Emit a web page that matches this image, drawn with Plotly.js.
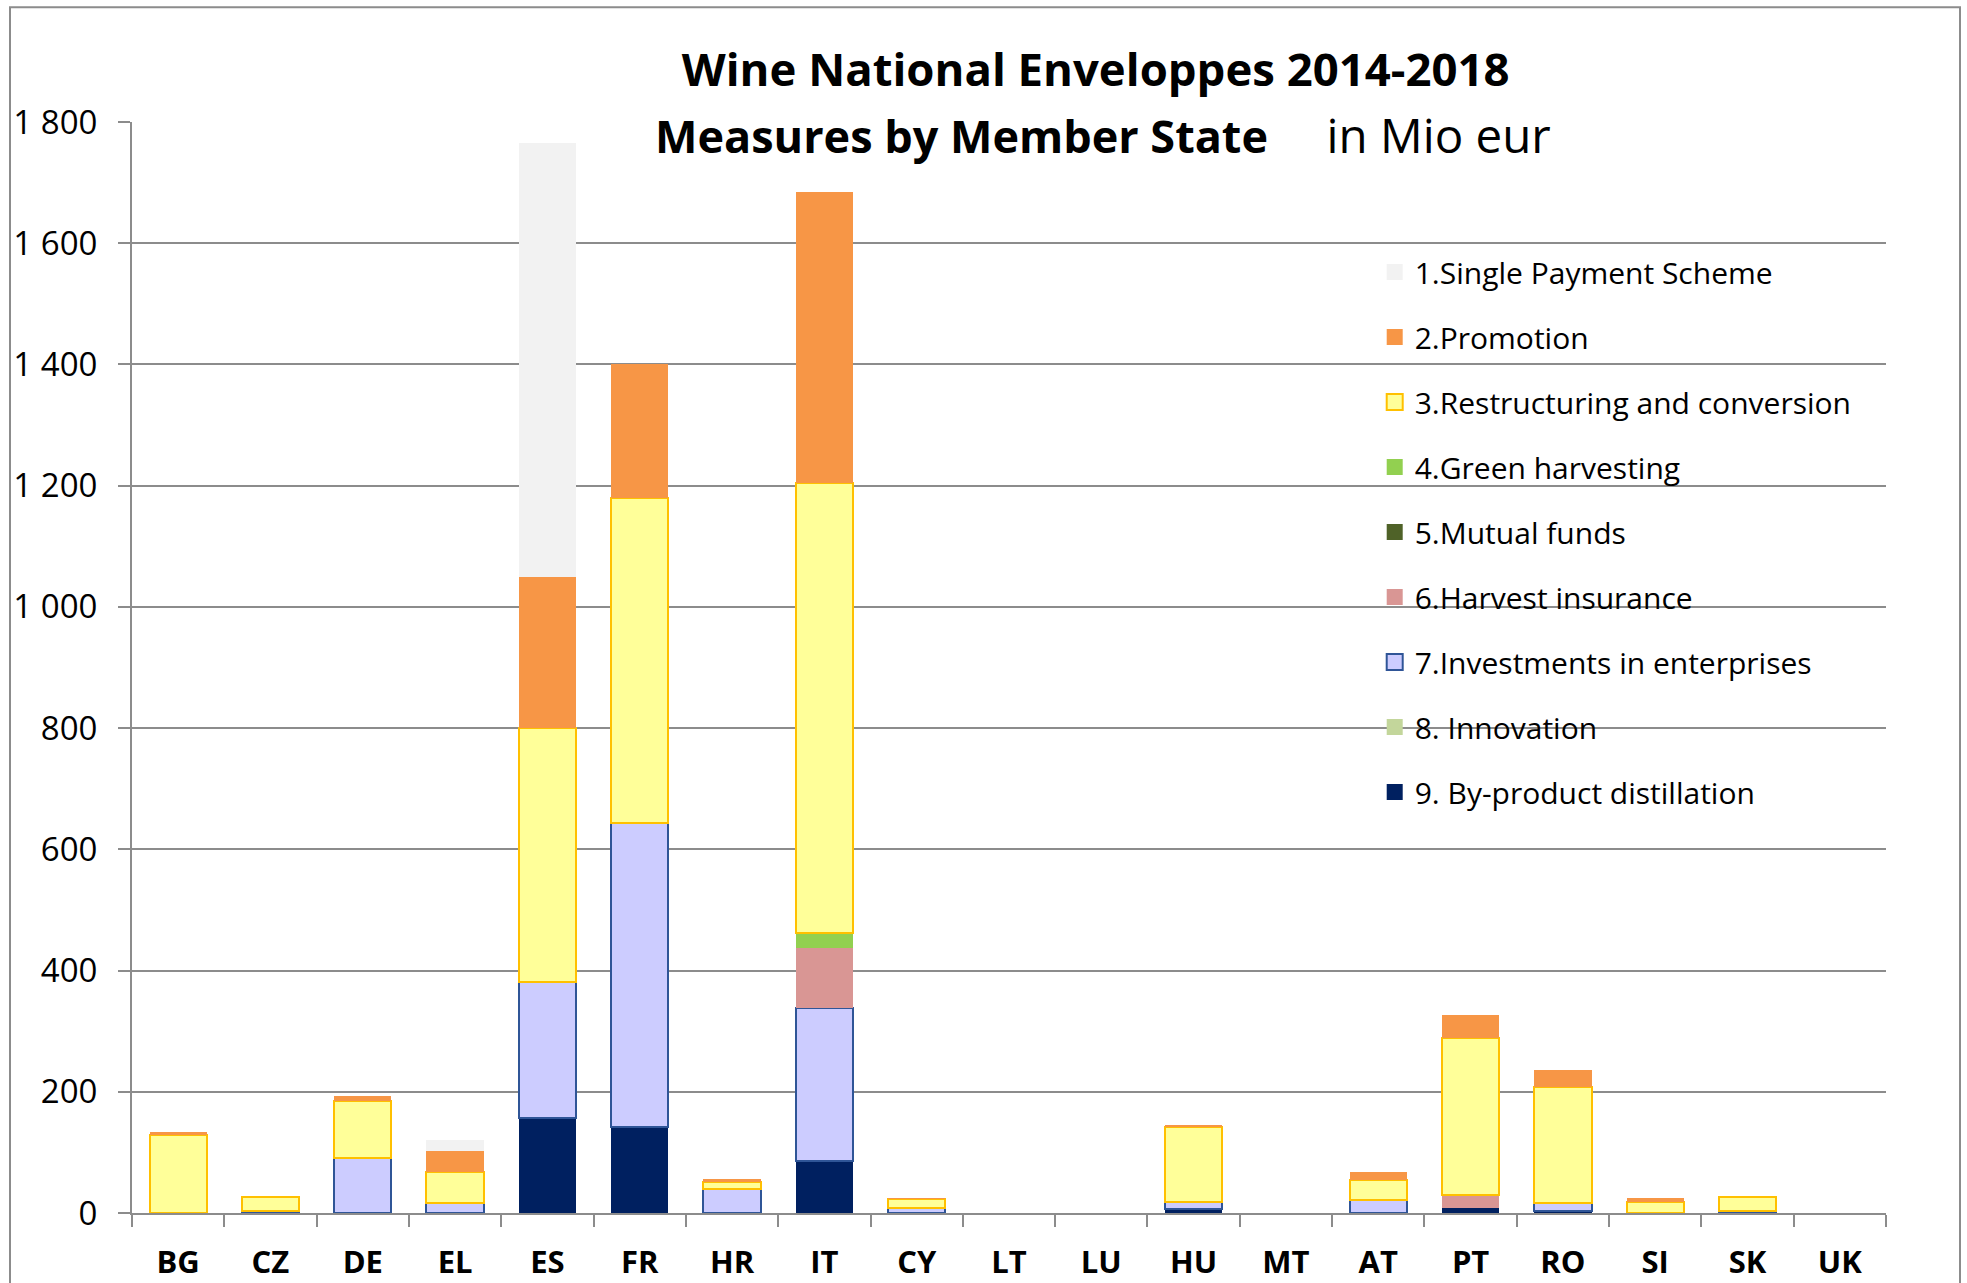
<!DOCTYPE html>
<html>
<head>
<meta charset="utf-8">
<script src="https://cdn.plot.ly/plotly-3.0.1.min.js"></script>
<style>html,body{margin:0;padding:0;background:#fff;}#chart{width:1967px;height:1283px;}</style>
</head>
<body>
<div id="chart"></div>
<script>
// Categories (Member States)
const countries = ["BG","CZ","DE","EL","ES","FR","HR","IT","CY","LT","LU","HU","MT","AT","PT","RO","SI","SK","UK"];

// Series values, Mio EUR, 2014-2018; null = no bar drawn
const singlePayment   = [0, 0, 0, 17, 715, 0, 0, 0, 0, 0, 0, 0, 0, 0, 0, 0, 0, 0, 0];
const promotion       = [5, 0, 8, 36, 250, 221, 5, 479, 1, 0, 0, 4, 0, 13, 38, 29, 8, 0, 0];
const restructuring   = [128.5, 23, 94, 50, 419, 537, 12, 743, 15, null, null, 124, null, 34, 259, 191, 17.5, 23, null];
const greenHarvesting = [0, 0, 0, 0, 0, 0, 0, 24, 0, 0, 0, 0, 0, 0, 0, 0, 0, 0, 0];
const mutualFunds     = [0, 0, 0, 0, 0, 0, 0, 0, 0, 0, 0, 0, 0, 0, 0, 0, 0, 0, 0];
const harvestInsurance= [0, 0, 0, 0, 0, 0, 0, 100, 0, 0, 0, 0, 0, 0, 22, 0, 0, 0, 0];
const investments     = [null, 3, 91, 17, 224, 501, 39, 253, 8, null, null, 11, null, 21, null, 13.5, null, 3, null];
const innovation      = [0, 0, 0, 0, 0, 0, 0, 0, 0, 0, 0, 0, 0, 0, 0, 0, 0, 0, 0];
const byProduct       = [0, 0, 0, 0, 157, 142, 0, 85, 0, 0, 0, 6.6, 0, 0, 8, 3, 0, 0, 0];

// Stacking order: bottom (9) to top (1)
const seriesNames = [
  "9. By-product distillation",
  "8. Innovation",
  "7.Investments in enterprises",
  "6.Harvest insurance",
  "5.Mutual funds",
  "4.Green harvesting",
  "3.Restructuring and conversion",
  "2.Promotion",
  "1.Single Payment Scheme"
];
const seriesValues = [byProduct, innovation, investments, harvestInsurance, mutualFunds, greenHarvesting, restructuring, promotion, singlePayment];
const fillColors = ["#002060","#C3D69B","#CCCCFF","#D99694","#4F6228","#92D050","#FFFF99","#F79646","#F2F2F2"];
const lineColors = [null, null, "#2F5597", null, null, null, "#FFC000", null, null];

const barTraces = seriesNames.map((name, i) => ({
  type: "bar",
  name: name,
  x: countries,
  y: seriesValues[i],
  showlegend: false,
  legendgroup: "g" + i,
  marker: {
    color: fillColors[i],
    line: lineColors[i] ? {color: lineColors[i], width: 2} : {width: 0}
  }
}));

// Legend entries (square swatches), listed 1 -> 9 from top
const legendTraces = seriesNames.map((name, i) => ({
  type: "scatter",
  mode: "markers",
  name: name,
  x: [null],
  y: [null],
  legendgroup: "g" + i,
  marker: {
    symbol: "square",
    size: 16,
    color: fillColors[i],
    line: lineColors[i] ? {color: lineColors[i], width: 2} : {width: 0}
  }
})).reverse();

const FONT = "Open Sans, Noto Sans, sans-serif";

const layout = {
  width: 1967,
  height: 1283,
  paper_bgcolor: "#ffffff",
  plot_bgcolor: "#ffffff",
  margin: {l: 132, r: 81, t: 122, b: 70, pad: 0},
  barmode: "stack",
  bargap: 0.38,
  separators: ". ",
  font: {family: FONT, color: "#000000"},
  title: {
    text: "<b>Wine National Enveloppes 2014-2018</b>",
    font: {family: FONT, size: 45.5, color: "#000000"},
    xref: "container", yref: "container",
    x: 0.557, xanchor: "center",
    y: 1 - 70/1283, yanchor: "middle"
  },
  annotations: [{
    text: "<b>Measures by Member State</b>&nbsp;&nbsp;&nbsp;&nbsp;&nbsp;<span style=\"font-size:47.5px\">in Mio eur</span>",
    xref: "paper", yref: "paper",
    x: 0.5535, xanchor: "center",
    y: (1213 - 134)/1091.3, yanchor: "middle",
    showarrow: false,
    font: {family: FONT, size: 45, color: "#000000"}
  }],
  xaxis: {
    type: "category",
    showline: true, linecolor: "#8C8C8C", linewidth: 2,
    ticks: "outside", tickson: "boundaries", ticklen: 12, tickwidth: 2, tickcolor: "#8C8C8C",
    tickfont: {family: FONT, size: 31, color: "#000000", weight: "bold"},
    ticklabelstandoff: 21,
    showgrid: false, zeroline: false
  },
  yaxis: {
    range: [0, 1800],
    tickvals: [0, 200, 400, 600, 800, 1000, 1200, 1400, 1600, 1800],
    separatethousands: true,
    tickformat: ",d",
    showline: true, linecolor: "#8C8C8C", linewidth: 2,
    ticks: "outside", ticklen: 12, tickwidth: 2, tickcolor: "#8C8C8C",
    tickfont: {family: FONT, size: 33, color: "#000000"},
    ticklabelstandoff: 14,
    showgrid: true, gridcolor: "#8C8C8C", gridwidth: 2,
    zeroline: false
  },
  legend: {
    x: 0.7085, xanchor: "left",
    y: 0.8863, yanchor: "top",
    traceorder: "grouped",
    tracegroupgap: 23,
    bgcolor: "rgba(0,0,0,0)",
    borderwidth: 0,
    itemsizing: "trace",
    font: {family: FONT, size: 30, color: "#000000"}
  },
  shapes: [{
    type: "rect", xref: "paper", yref: "paper",
    x0: (10 - 132)/1754, x1: (1960 - 132)/1754,
    y0: -0.09, y1: (1213 - 7)/1091.3,
    line: {color: "#8C8C8C", width: 2},
    fillcolor: "rgba(0,0,0,0)",
    layer: "below"
  }]
};

Plotly.newPlot("chart", barTraces.concat(legendTraces), layout, {displayModeBar: false, staticPlot: true});
</script>
</body>
</html>
